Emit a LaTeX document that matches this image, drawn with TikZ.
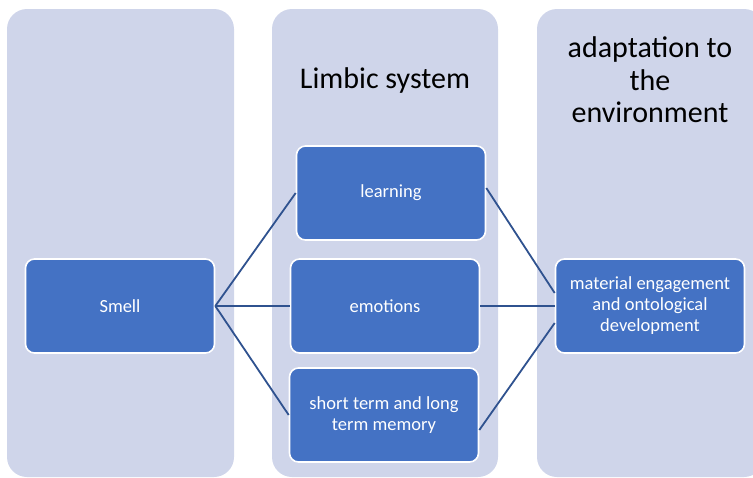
\documentclass[tikz,border=0pt]{standalone}
\usepackage{fontspec}
\setmainfont{Carlito}
\usepackage{tikz}
\usetikzlibrary{positioning}

\definecolor{colbg}{RGB}{207,213,234}
\definecolor{boxblue}{RGB}{68,114,196}
\definecolor{linkblue}{RGB}{47,82,143}

\tikzset{
    column/.style={fill=colbg, rounded corners=20pt},
    stepbox/.style={draw=white, line width=1.6pt, fill=boxblue, rounded corners=9pt,
        minimum width=189pt, minimum height=94pt, inner sep=4pt,
        text=white, align=center, font=\fontsize{18.5}{21}\selectfont},
    heading/.style={align=center, font=\fontsize{30}{32.5}\selectfont},
    link/.style={draw=linkblue, line width=1.8pt}
}

\begin{document}
\begin{tikzpicture}[x=1pt, y=-1pt]
    \useasboundingbox (0,0) rectangle (753,477);
    \clip (0,0) rectangle (753,477);

    % the three columns in the background
    \fill[column] (7,9) rectangle (234,477);
    \fill[column] (272,9) rectangle (498,477);
    \fill[column] (537,9) rectangle (764,477);

    % column headings
    \node[heading] (limbic) at (385,80) {Limbic system};
    \node[heading] (adapt) at (650,80) {adaptation to\\the\\environment};

    % boxes
    \node[stepbox] (smell) at (120,306) {Smell};
    \node[stepbox] (learn) at (391,193) {learning};
    \node[stepbox] (emo) at (385,306) {emotions};
    \node[stepbox] (stm) at (384,415) {short term and long\\term memory};
    \node[stepbox] (mat) at (650,306) {material engagement\\and ontological\\development};

    % smell to the limbic system
    \draw[link] (smell.east) -- (learn.west);
    \draw[link] (smell.east) -- (emo.west);
    \draw[link] (smell.east) -- (stm.west);

    % limbic system to adaptation
    \draw[link] ([yshift=5pt]learn.east) -- ([yshift=13pt]mat.west);
    \draw[link] (emo.east) -- (mat.west);
    \draw[link] ([yshift=-15pt]stm.east) -- ([yshift=-17pt]mat.west);
\end{tikzpicture}
\end{document}
